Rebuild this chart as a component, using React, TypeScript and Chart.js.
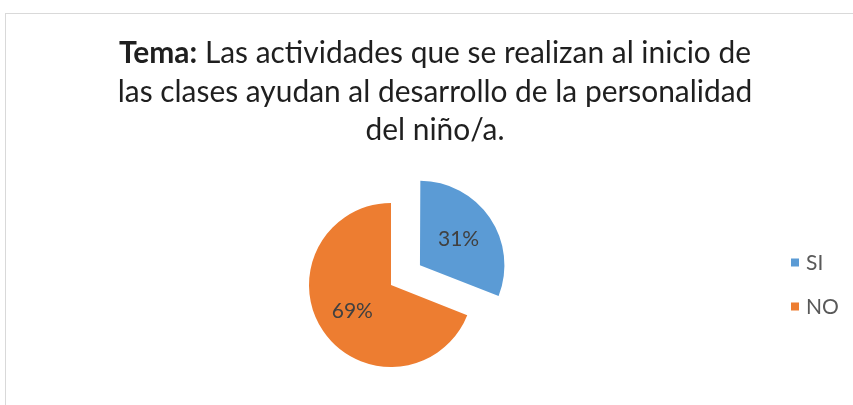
import React, { useEffect, useRef } from "react";
import { Chart, registerables } from "chart.js";

Chart.register(...registerables);

// ---- data ----
const categories = ["SI", "NO"];
const values = [31, 69];
const colors = ["#5B9BD5", "#ED7D31"];
const explodePx = [35, 0];
const titleBold = "Tema:";
const titleLines = [
  "Las actividades que se realizan al inicio de",
  "las clases ayudan al desarrollo de la personalidad",
  "del niño/a.",
];

const W = 853;
const H = 405;
const FONT = "Lato, 'Open Sans', sans-serif";

export default function App() {
  const ref = useRef<HTMLCanvasElement>(null);

  useEffect(() => {
    const canvas = ref.current;
    if (!canvas) return;
    const total = values.reduce((a, b) => a + b, 0);

    const framePlugin = {
      id: "frame",
      beforeDraw(chart: any) {
        const ctx = chart.ctx;
        ctx.save();
        ctx.fillStyle = "#ffffff";
        ctx.fillRect(0, 0, W, H);
        ctx.strokeStyle = "#d9d9d9";
        ctx.lineWidth = 1;
        ctx.strokeRect(5.5, 13.5, W + 20, H + 20);
        ctx.restore();
      },
    };

    const titlePlugin = {
      id: "richTitle",
      afterDraw(chart: any) {
        const ctx = chart.ctx;
        ctx.save();
        // fit size so the longest line matches target width
        ctx.font = `100px ${FONT}`;
        const w2 = ctx.measureText(titleLines[1]).width;
        const size = (635 / w2) * 100;
        const normal = `${size}px ${FONT}`;
        const bold = `bold ${size}px ${FONT}`;
        const cx = 435;
        const baselines = [63, 101.5, 140];
        ctx.fillStyle = "#1f1f1f";
        ctx.textBaseline = "alphabetic";
        ctx.textAlign = "left";
        // line 1 with bold prefix
        ctx.font = bold;
        const wb = ctx.measureText(titleBold).width;
        ctx.font = normal;
        const rest = " " + titleLines[0];
        const wr = ctx.measureText(rest).width;
        let x = cx - (wb + wr) / 2;
        ctx.font = bold;
        ctx.fillText(titleBold, x, baselines[0]);
        ctx.font = normal;
        ctx.fillText(rest, x + wb, baselines[0]);
        ctx.textAlign = "center";
        ctx.fillText(titleLines[1], cx, baselines[1]);
        ctx.fillText(titleLines[2], cx, baselines[2]);
        ctx.restore();
      },
    };

    const labelPlugin = {
      id: "sliceLabels",
      afterDatasetsDraw(chart: any) {
        const ctx = chart.ctx;
        const meta = chart.getDatasetMeta(0);
        ctx.save();
        ctx.font = `21px ${FONT}`;
        ctx.fillStyle = "#404040";
        ctx.textAlign = "center";
        ctx.textBaseline = "middle";
        meta.data.forEach((arc: any, i: number) => {
          const p = arc.getProps(["x", "y", "startAngle", "endAngle", "outerRadius"], true);
          const mid = (p.startAngle + p.endAngle) / 2;
          const d = explodePx[i] + p.outerRadius * 0.57;
          const lx = p.x + Math.cos(mid) * d;
          const ly = p.y + Math.sin(mid) * d;
          const pct = Math.round((values[i] / total) * 100) + "%";
          ctx.fillText(pct, lx, ly);
        });
        ctx.restore();
      },
    };

    const legendPlugin = {
      id: "sideLegend",
      afterDraw(chart: any) {
        const ctx = chart.ctx;
        ctx.save();
        ctx.font = `21px ${FONT}`;
        ctx.textBaseline = "middle";
        ctx.textAlign = "left";
        const ys = [262.5, 306.5];
        categories.forEach((c, i) => {
          ctx.fillStyle = colors[i];
          ctx.fillRect(791, ys[i] - 4, 8, 8);
          ctx.fillStyle = "#595959";
          ctx.fillText(c, 806, ys[i] + 1);
        });
        ctx.restore();
      },
    };

    const chart = new Chart(canvas, {
      type: "pie",
      data: {
        labels: categories,
        datasets: [
          {
            data: values,
            backgroundColor: colors,
            borderWidth: 0,
            offset: explodePx.map((e) => e * 4),
            radius: 82,
            clip: false,
          } as any,
        ],
      },
      options: {
        responsive: false,
        animation: false,
        layout: { padding: { left: 291, right: 362, top: 185, bottom: 20 } },
        plugins: {
          legend: { display: false },
          title: { display: false },
          tooltip: { enabled: false },
        },
      } as any,
      plugins: [framePlugin, labelPlugin, legendPlugin, titlePlugin],
    });

    return () => chart.destroy();
  }, []);

  return (
    <div style={{ position: "fixed", left: 0, top: 0, width: W, height: H, background: "#fff" }}>
      <canvas ref={ref} width={W} height={H} style={{ display: "block", width: W, height: H }} />
    </div>
  );
}
